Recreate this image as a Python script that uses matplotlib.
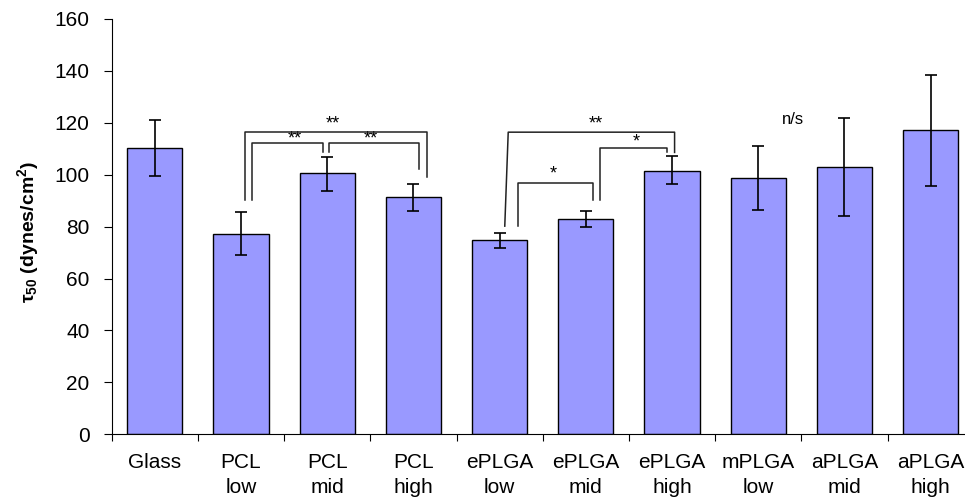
import matplotlib.pyplot as plt
import numpy as np

plt.rcParams['font.family'] = ['Liberation Sans', 'DejaVu Sans']
plt.rcParams['mathtext.fontset'] = 'custom'
plt.rcParams['mathtext.rm'] = 'Liberation Sans:bold'
plt.rcParams['mathtext.it'] = 'Liberation Sans:bold'
plt.rcParams['mathtext.bf'] = 'Liberation Sans:bold'

# data
groups = ["Glass", "PCL\nlow", "PCL\nmid", "PCL\nhigh", "ePLGA\nlow", "ePLGA\nmid",
          "ePLGA\nhigh", "mPLGA\nlow", "aPLGA\nmid", "aPLGA\nhigh"]
tau50 = np.array([110.4, 77.0, 100.5, 91.3, 74.8, 82.8, 101.5, 98.9, 102.9, 117.2])
err_low = np.array([99.5, 68.9, 93.9, 86.1, 71.9, 79.8, 96.3, 86.6, 84.0, 95.8])
err_high = np.array([120.9, 85.6, 106.9, 96.5, 77.6, 86.1, 107.1, 111.1, 121.8, 138.5])

# significance brackets: polyline x, polyline y, label, label x, label y
brackets = [
    ([1.05, 1.05, 3.16, 3.16], [90.2, 116.4, 116.4, 99.2], "**", 2.06, 119.6),
    ([1.13, 1.13, 1.95, 1.95], [90.2, 112.4, 112.4, 108.6], "**", 1.63, 113.9),
    ([2.02, 2.02, 3.06, 3.06], [108.6, 112.4, 112.4, 102.4], "**", 2.51, 113.9),
    ([4.06, 4.10, 6.03, 6.03], [80.2, 116.4, 116.4, 108.6], "**", 5.12, 119.6),
    ([4.21, 4.21, 5.08, 5.08], [80.2, 96.9, 96.9, 90.2], "*", 4.62, 100.3),
    ([5.17, 5.17, 5.94, 5.94], [90.2, 110.3, 110.3, 108.6], "*", 5.58, 112.5),
]
ns_label = ("n/s", 7.40, 121.4)

fig = plt.figure(figsize=(9.65, 4.98), dpi=100)
ax = fig.add_axes([111.7 / 965, 1 - 434.3 / 498, 862 / 965, 415.3 / 498])

x = np.arange(len(groups))
yerr = np.vstack([tau50 - err_low, err_high - tau50])
ax.bar(x, tau50, width=0.64, color="#9999FF", edgecolor="black", linewidth=1.0, zorder=2)
ax.errorbar(x, tau50, yerr=yerr, fmt="none", ecolor="black", elinewidth=1.2,
            capsize=4.5, capthick=1.2, zorder=3)

for bx, by, lab, lx, ly in brackets:
    ax.plot(bx, by, color="#222222", linewidth=1.1, zorder=4)
    ax.text(lx, ly, lab, ha="center", va="center", fontsize=13)
ax.text(ns_label[1], ns_label[2], ns_label[0], ha="center", va="center", fontsize=12)

ax.set_xlim(-0.5, len(groups) - 0.5)
ax.set_ylim(0, 160)
ax.set_yticks(np.arange(0, 161, 20))
ax.tick_params(axis="y", direction="out", length=6, width=0.8, labelsize=15, pad=10)

# tick marks between categories, labels at centres
ax.set_xticks(np.arange(-0.5, len(groups), 1.0))
ax.set_xticklabels([])
ax.set_xticks(x, minor=True)
ax.set_xticklabels(groups, minor=True, fontsize=15, linespacing=1.4)
ax.tick_params(axis="x", which="major", direction="out", length=5, width=0.8)
ax.tick_params(axis="x", which="minor", length=0, pad=13.5)

for side in ["top", "right"]:
    ax.spines[side].set_visible(False)
ax.spines["left"].set_linewidth(0.8)
ax.spines["bottom"].set_linewidth(0.8)

fig.text(28 / 965, 1 - 232 / 498, "τ$_{50}$ (dynes/cm$^{2}$)", rotation=90,
         ha="center", va="center", fontsize=14, fontweight="bold")

plt.savefig("out.png", dpi=100)
